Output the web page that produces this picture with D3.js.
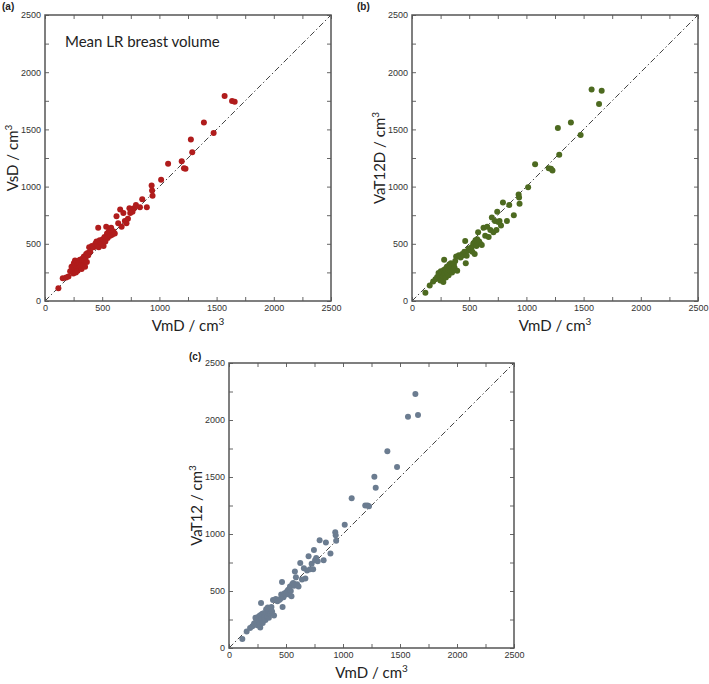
<!DOCTYPE html>
<html>
<head>
<meta charset="utf-8">
<script src="https://cdn.jsdelivr.net/npm/d3@7"></script>
<style>
  body { margin: 0; background: #fff; }
  svg { display: block; }
  .tick text { font-family: "Liberation Sans", Arial, sans-serif; font-size: 9px; fill: #333; }
  .axis path { display: none; }
  .axis line { stroke: #666; stroke-width: 1; }
  .label { font-family: Lato, "Open Sans", sans-serif; font-size: 15px; fill: #222; }
  .tag { font-family: "Liberation Sans", Arial, sans-serif; font-size: 10px; font-weight: bold; fill: #222; }
</style>
</head>
<body>
<svg id="chart" width="709" height="684"></svg>
<script>
// shared x values (VmD, cm3)
const VmD = [
  117, 155, 185, 205, 220, 232, 240, 248, 252, 258,
  262, 266, 270, 274, 278, 281, 285, 288, 292, 296,
  300, 305, 310, 315, 320, 326, 330, 336, 340, 345,
  350, 355, 360, 366, 372, 378, 386, 395, 410, 425,
  440, 450, 458, 465, 470, 478, 488, 497, 505, 512,
  520, 528, 535, 542, 548, 555, 563, 570, 578, 587,
  597, 610, 625, 640, 657, 670, 685, 698, 712, 725,
  738, 745, 755, 765, 778, 795, 830, 850, 890, 932,
  936, 940, 1015, 1076, 1195, 1215, 1228, 1275, 1287, 1389,
  1474, 1570, 1635, 1658
];

// panel (a)
const VsD = [
  111, 199, 205, 215, 260, 300, 270, 240, 330, 290,
  355, 310, 250, 280, 340, 300, 265, 320, 350, 290,
  330, 360, 300, 340, 280, 370, 350, 310, 390, 355,
  300, 380, 410, 340, 420, 400, 470, 430, 480, 470,
  500, 520, 480, 640, 470, 530, 510, 500, 540, 480,
  560, 520, 650, 590, 550, 600, 620, 570, 640, 580,
  610, 590, 740, 680, 800, 650, 770, 700, 680, 720,
  810, 770, 800, 780, 810, 840, 820, 890, 820, 1010,
  965, 920, 1060, 1199, 1222, 1160, 1155, 1412, 1301, 1561,
  1468, 1792, 1748, 1742
];

// panel (b)
const VaT12D = [
  72, 135, 170, 190, 210, 245, 225, 180, 260, 240,
  200, 255, 215, 165, 270, 360, 230, 245, 280, 205,
  260, 300, 240, 275, 225, 320, 290, 260, 330, 300,
  250, 310, 275, 320, 290, 350, 390, 265, 400, 380,
  410, 400, 430, 525, 330, 395, 440, 460, 450, 460,
  470, 430, 500, 510, 410, 530, 480, 540, 600, 520,
  500, 490, 640, 570, 650, 560, 620, 730, 600, 700,
  620, 780, 690, 700, 660, 860, 700, 840, 750, 930,
  905, 850, 995, 1196, 1161, 1155, 1140, 1512, 1278, 1561,
  1450, 1848, 1722, 1838
];

// panel (c)
const VaT12 = [
  78, 145, 175, 190, 215, 265, 240, 200, 270, 250,
  230, 280, 215, 180, 290, 395, 250, 265, 300, 220,
  285, 305, 260, 290, 245, 340, 310, 275, 355, 320,
  265, 330, 300, 345, 360, 320, 420, 285, 430, 410,
  420, 430, 470, 580, 360, 445, 480, 470, 490, 500,
  510, 470, 540, 500, 455, 560, 570, 545, 670, 620,
  560, 540, 745, 600, 700, 610, 680, 805, 690, 740,
  690, 860, 770, 790, 760, 945, 770, 925, 830, 1015,
  990, 940, 1082, 1313, 1251, 1250, 1243, 1503, 1406, 1725,
  1588, 2029, 2228, 2044
];

const tickValues = d3.range(0, 2501, 250);

const panels = [
  { tag: '(a)', ys: VsD, yLabel: 'VsD', color: '#b01c1c', left: 45, top: 15, size: 286,
    tagX: 2, tagY: 10, note: 'Mean LR breast volume' },
  { tag: '(b)', ys: VaT12D, yLabel: 'VaT12D', color: '#4d6a20', left: 412, top: 15, size: 286,
    tagX: 357, tagY: 10 },
  { tag: '(c)', ys: VaT12, yLabel: 'VaT12', color: '#6b7c90', left: 229, top: 363, size: 285,
    tagX: 189, tagY: 360 }
];

const svg = d3.select('#chart');

panels.forEach(p => {
  const s = p.size;
  const x = d3.scaleLinear().domain([0, 2500]).range([0, s]);
  const y = d3.scaleLinear().domain([0, 2500]).range([s, 0]);
  const fmt = d => d % 500 === 0 ? d : '';

  const g = svg.append('g')
    .attr('transform', `translate(${p.left},${p.top})`);

  g.append('g').attr('class', 'axis')
    .attr('transform', `translate(0,${s})`)
    .call(d3.axisBottom(x).tickValues(tickValues).tickFormat(fmt).tickSize(-4).tickPadding(4));
  g.append('g').attr('class', 'axis')
    .call(d3.axisLeft(y).tickValues(tickValues).tickFormat(fmt).tickSize(-4).tickPadding(4));
  g.append('g').attr('class', 'axis')
    .call(d3.axisTop(x).tickValues(tickValues).tickFormat('').tickSize(-4));
  g.append('g').attr('class', 'axis')
    .attr('transform', `translate(${s},0)`)
    .call(d3.axisRight(y).tickValues(tickValues).tickFormat('').tickSize(-4));

  // identity line
  g.append('line')
    .attr('x1', x(0)).attr('y1', y(0))
    .attr('x2', x(2500)).attr('y2', y(2500))
    .attr('stroke', '#444')
    .attr('stroke-width', 1)
    .attr('stroke-dasharray', '6,2.5,1.5,2.5');

  g.append('g')
    .selectAll('circle')
    .data(VmD.map((v, i) => ({ x: v, y: p.ys[i] })))
    .enter()
    .append('circle')
    .attr('cx', d => x(d.x))
    .attr('cy', d => y(d.y))
    .attr('r', 3)
    .attr('fill', p.color);

  g.append('rect')
    .attr('width', s).attr('height', s)
    .attr('fill', 'none')
    .attr('stroke', '#555')
    .attr('stroke-width', 1.5);

  const xl = g.append('text').attr('class', 'label')
    .attr('text-anchor', 'middle')
    .attr('x', s / 2).attr('y', s + 30);
  xl.append('tspan').text('VmD / cm');
  xl.append('tspan').attr('dy', -6).attr('font-size', 10).text('3');

  const yl = g.append('text').attr('class', 'label')
    .attr('text-anchor', 'middle')
    .attr('transform', `translate(-27,${s / 2}) rotate(-90)`);
  yl.append('tspan').text(p.yLabel + ' / cm');
  yl.append('tspan').attr('dy', -6).attr('font-size', 10).text('3');

  if (p.note) {
    g.append('text').attr('class', 'label')
      .attr('x', 20).attr('y', 32)
      .text(p.note);
  }

  svg.append('text').attr('class', 'tag')
    .attr('x', p.tagX).attr('y', p.tagY)
    .text(p.tag);
});
</script>
</body>
</html>
